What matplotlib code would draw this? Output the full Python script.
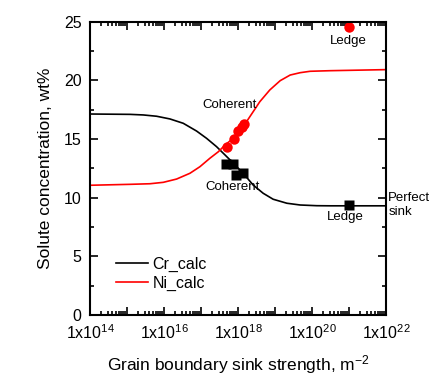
import numpy as np
import matplotlib
matplotlib.use('Agg')
import matplotlib.pyplot as plt
from matplotlib.ticker import LogLocator, FuncFormatter, NullFormatter, MultipleLocator

plt.rcParams['font.family'] = ['Liberation Sans', 'DejaVu Sans']
plt.rcParams['mathtext.fontset'] = 'custom'
plt.rcParams['mathtext.rm'] = 'Liberation Sans'
plt.rcParams['mathtext.it'] = 'Liberation Sans:italic'
plt.rcParams['mathtext.bf'] = 'Liberation Sans:bold'

# calculated curves (log10 of sink strength, wt%)
cr_logx = [14, 15.08, 15.44, 15.8, 16.16, 16.52, 16.88, 17.15, 17.42, 17.65, 17.9,
           18.14, 18.41, 18.68, 18.95, 19.32, 19.68, 20.13, 20.5, 22]
cr_calc = [17.12, 17.09, 17.04, 16.93, 16.70, 16.33, 15.67, 15.05, 14.34, 13.63, 12.85,
           12.07, 11.07, 10.37, 9.86, 9.52, 9.37, 9.31, 9.3, 9.3]
ni_logx = [14, 15.08, 15.62, 15.98, 16.34, 16.70, 16.97, 17.24, 17.47, 17.65, 17.85,
           18.05, 18.32, 18.59, 18.86, 19.14, 19.41, 19.68, 19.95, 20.49, 22]
ni_calc = [11.05, 11.13, 11.18, 11.30, 11.58, 12.07, 12.63, 13.35, 13.91, 14.48, 15.0,
           15.61, 16.89, 18.17, 19.17, 19.96, 20.44, 20.64, 20.76, 20.81, 20.9]

# measured points
ni_coh_x = [4.9e17, 7.8e17, 9.8e17, 1.25e18, 1.45e18]
ni_coh = [14.3, 15.0, 15.7, 16.0, 16.3]
cr_coh_x = [4.7e17, 7.2e17, 9.1e17, 1.38e18]
cr_coh = [12.9, 12.9, 11.9, 12.1]
ledge_x = [1e21]
ni_ledge = [24.5]
cr_ledge = [9.4]

fig = plt.figure(figsize=(4.29, 3.83), dpi=100)
ax = fig.add_axes([90/429, 1-315/383, 296/429, 293.5/383])

ax.plot(10**np.array(cr_logx), cr_calc, color='black', lw=1.2, label='Cr_calc')
ax.plot(10**np.array(ni_logx), ni_calc, color='red', lw=1.2, label='Ni_calc')
ax.plot(ni_coh_x, ni_coh, 'o', color='red', ms=7.5, mec='none')
ax.plot(ledge_x, ni_ledge, 'o', color='red', ms=7.5, mec='none')
ax.plot(cr_coh_x, cr_coh, 's', color='black', ms=6.5, mec='none')
ax.plot(ledge_x, cr_ledge, 's', color='black', ms=6.5, mec='none')

ax.text(10**20.97, 23.3, 'Ledge', ha='center', va='center', fontsize=9.5)
ax.text(10**20.89, 8.35, 'Ledge', ha='center', va='center', fontsize=9.5)
ax.text(10**17.78, 17.9, 'Coherent', ha='center', va='center', fontsize=9.5)
ax.text(10**17.84, 10.9, 'Coherent', ha='center', va='center', fontsize=9.5)
ax.text(1.008, 0.375, 'Perfect\nsink', transform=ax.transAxes, ha='left', va='center',
        fontsize=9.5, linespacing=1.3)

ax.set_xscale('log')
ax.set_xlim(1e14, 1e22)
ax.set_ylim(0, 25)
ax.xaxis.set_major_locator(LogLocator(base=10, numticks=20))
ax.xaxis.set_minor_locator(LogLocator(base=10, subs=np.arange(2, 10), numticks=20))
ax.xaxis.set_minor_formatter(NullFormatter())


def fmt(v, pos):
    e = int(round(np.log10(v)))
    return r'1x10$^{%d}$' % e if e % 2 == 0 else ''


ax.xaxis.set_major_formatter(FuncFormatter(fmt))
ax.yaxis.set_major_locator(MultipleLocator(5))
ax.yaxis.set_minor_locator(MultipleLocator(2.5))

ax.tick_params(which='both', direction='in', top=True, right=True, width=1.2, labelsize=11.5)
ax.tick_params(which='major', length=6)
ax.tick_params(which='minor', length=3)
ax.tick_params(axis='y', pad=6)
ax.tick_params(axis='x', pad=6)
for s in ax.spines.values():
    s.set_linewidth(1.5)

ax.set_xlabel('Grain boundary sink strength, m$^{-2}$', fontsize=12.5, labelpad=8)
ax.set_ylabel('Solute concentration, wt%', fontsize=12.5, labelpad=8)

ax.legend(loc='lower left', bbox_to_anchor=(0.065, 0.06), frameon=False, fontsize=11.5,
          handlelength=2.0, handletextpad=0.3, labelspacing=0.25, borderaxespad=0)

fig.savefig('out.png', dpi=100)
